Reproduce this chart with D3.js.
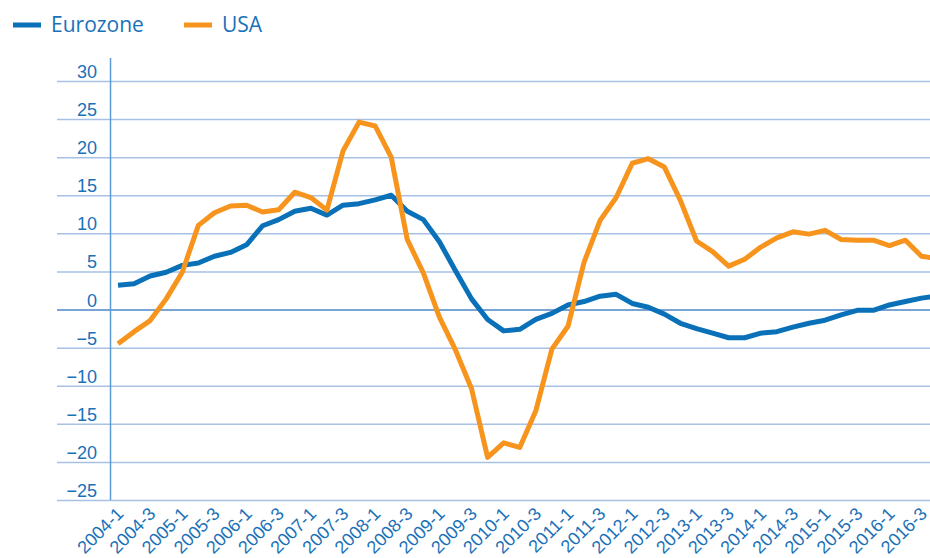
<!DOCTYPE html>
<html lang="en">

<head>
    <meta charset="UTF-8">
    <title>Eurozone vs USA</title>
    <script src="https://d3js.org/d3.v7.min.js"></script>
    <style>
        body { margin: 0; background: #fff; }
        svg { display: block; font-family: "Open Sans", sans-serif; }
        .tick text { fill: #1a71b8; }
    </style>
</head>

<body>
    <svg width="930" height="558"></svg>
    <script>
        // quarterly values, 2004-1 .. 2016-4
        var years = d3.range(2004, 2017);
        var quarters = [];
        years.forEach(y => { [1, 2, 3, 4].forEach(q => quarters.push(y + '-' + q)); });

        var eurozone = [
            3.2, 3.4, 4.4, 4.9, 5.8, 6.1, 7.0, 7.5, 8.5, 11.0, 11.8, 12.9, 13.3,
            12.4, 13.7, 13.9, 14.4, 15.0, 12.9, 11.8, 8.9, 5.1, 1.4, -1.3, -2.8, -2.6,
            -1.3, -0.5, 0.6, 1.05, 1.75, 2.0, 0.8, 0.3, -0.6, -1.8, -2.5, -3.1, -3.7,
            -3.7, -3.1, -2.9, -2.3, -1.8, -1.4, -0.7, -0.1, -0.1, 0.6, 1.05, 1.5, 1.8
        ];
        var usa = [
            -4.5, -2.9, -1.45, 1.4, 4.9, 11.05, 12.7, 13.6, 13.7, 12.8, 13.1, 15.4, 14.7,
            13.05, 20.8, 24.6, 24.1, 20.0, 9.2, 4.8, -1.0, -5.3, -10.4, -19.4, -17.5, -18.1,
            -13.3, -5.2, -2.2, 6.2, 11.7, 14.7, 19.2, 19.8, 18.7, 14.3, 9.0, 7.6, 5.7,
            6.6, 8.2, 9.4, 10.2, 9.9, 10.4, 9.2, 9.1, 9.1, 8.4, 9.1, 7.0, 6.7
        ];
        var yTicks = d3.range(-25, 31, 5);
        var xTicks = quarters.filter(q => /-(1|3)$/.test(q)).filter(q => q !== '2016-4');

        var blue = '#0a71b9';
        var orange = '#f7941d';

        var svg = d3.select('svg');

        var xScale = d3.scalePoint()
            .domain(quarters)
            .range([118, 118 + 51 * 16.07]);

        var yScale = d3.scaleLinear()
            .domain([-25, 30])
            .range([500, 81]);

        // gridlines + y labels
        var yAxis = d3.axisLeft(yScale)
            .tickValues(yTicks)
            .tickSizeInner(-(930 - 57))
            .tickSizeOuter(0)
            .tickPadding(-40);

        var yAxisG = svg.append('g')
            .attr('transform', 'translate(57,0)')
            .call(yAxis);
        yAxisG.select('.domain').remove();
        yAxisG.selectAll('.tick line')
            .attr('stroke', d => d === 0 ? '#4d86c8' : '#a7c1e5')
            .attr('stroke-width', 1.5);
        yAxisG.selectAll('.tick text')
            .attr('dy', '-3.5')
            .style('font-size', '18px');

        // vertical axis line
        svg.append('line')
            .attr('x1', 110.5).attr('x2', 110.5)
            .attr('y1', 58).attr('y2', yScale(-25))
            .attr('stroke', '#5a9ad6')
            .attr('stroke-width', 1.5);

        // x labels
        var xAxis = d3.axisBottom(xScale)
            .tickValues(xTicks)
            .tickSize(0)
            .tickPadding(0);

        var xAxisG = svg.append('g')
            .attr('transform', 'translate(0,515)')
            .call(xAxis);
        xAxisG.select('.domain').remove();
        xAxisG.selectAll('.tick text')
            .attr('y', 0)
            .attr('dy', 0)
            .attr('transform', 'translate(6,0) rotate(-45)')
            .style('text-anchor', 'end')
            .style('font-size', '18px');

        // series
        var line = d3.line()
            .x((d, i) => xScale(quarters[i]))
            .y(d => yScale(d));

        svg.append('path')
            .datum(eurozone)
            .attr('d', line)
            .attr('fill', 'none')
            .attr('stroke', blue)
            .attr('stroke-width', 5)
            .attr('stroke-linejoin', 'round');

        svg.append('path')
            .datum(usa)
            .attr('d', line)
            .attr('fill', 'none')
            .attr('stroke', orange)
            .attr('stroke-width', 5)
            .attr('stroke-linejoin', 'round');

        // legend
        var legend = [
            { name: 'Eurozone', color: blue, x: 13 },
            { name: 'USA', color: orange, x: 184 }
        ];
        var lg = svg.append('g');
        lg.selectAll('line').data(legend)
            .enter().append('line')
            .attr('x1', d => d.x).attr('x2', d => d.x + 28)
            .attr('y1', 25).attr('y2', 25)
            .attr('stroke', d => d.color)
            .attr('stroke-width', 5);
        lg.selectAll('text').data(legend)
            .enter().append('text')
            .attr('x', d => d.x + 38)
            .attr('y', 32)
            .attr('fill', '#1a71b8')
            .style('font-size', '21px')
            .text(d => d.name);
    </script>
</body>

</html>
